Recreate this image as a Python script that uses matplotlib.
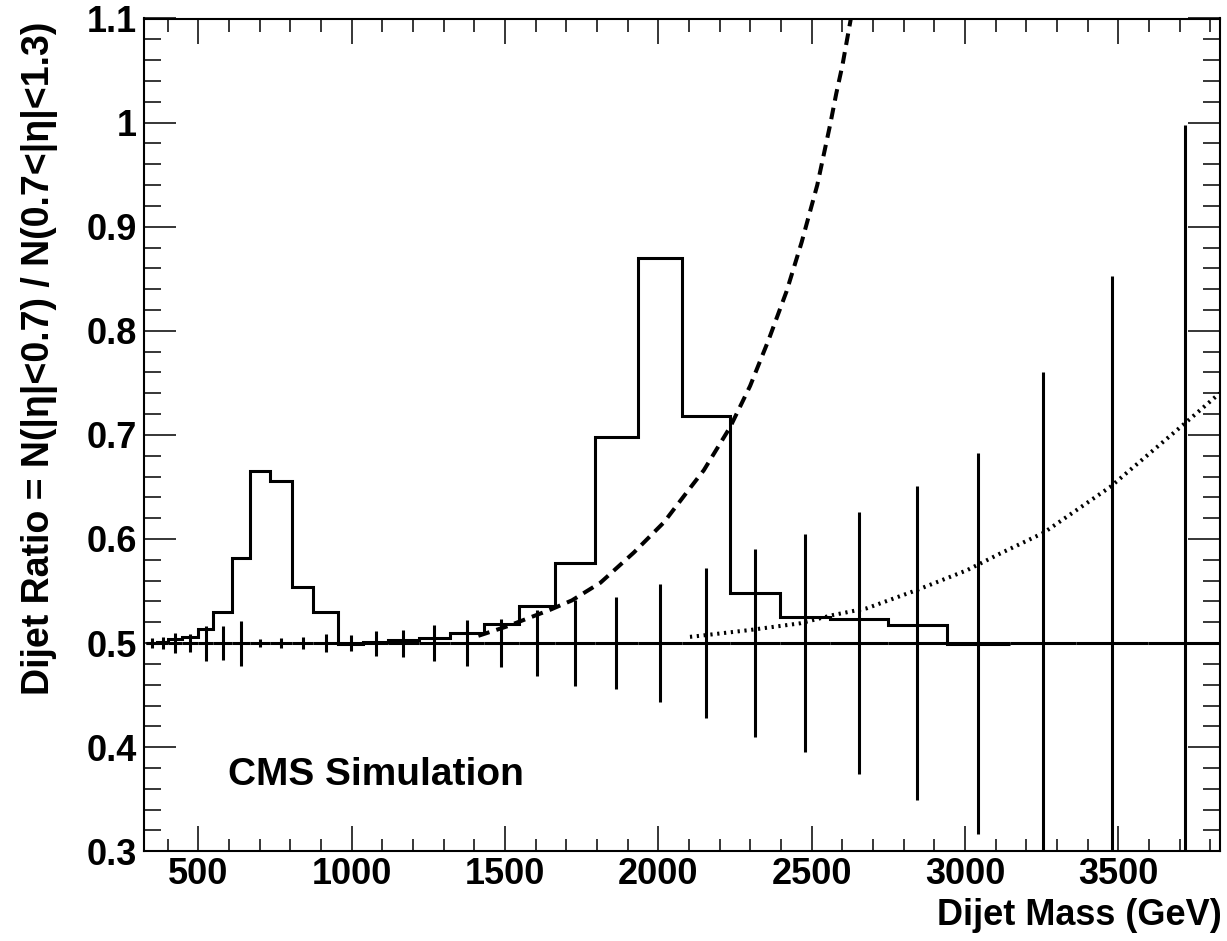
import matplotlib
matplotlib.use("Agg")
import matplotlib.pyplot as plt
from matplotlib.ticker import MultipleLocator, FuncFormatter
from matplotlib import font_manager

# ---------------- data ----------------
bin_edges = [330, 366, 402, 446, 500, 549, 609, 669, 734, 805, 875, 957, 1038,
             1120, 1218, 1321, 1430, 1544, 1662, 1794, 1932, 2077, 2232, 2395,
             2561, 2749, 2940, 3146, 3360, 3596, 3838]

# signal ratio histogram (first 27 bins)
hist_ratio = [0.5005, 0.501, 0.5035, 0.5055, 0.514, 0.530, 0.5815, 0.6656,
              0.6557, 0.5536, 0.5302, 0.4995, 0.501, 0.503, 0.505, 0.510,
              0.518, 0.536, 0.577, 0.698, 0.870, 0.718, 0.548, 0.525, 0.523,
              0.517, 0.4995]

# expected ratio points with statistical errors
point_ratio = [0.5] * 30
point_err = [0.0048, 0.006, 0.0094, 0.009, 0.0168, 0.016, 0.0216, 0.004,
             0.005, 0.0058, 0.0083, 0.0075, 0.012, 0.013, 0.0175, 0.0224,
             0.023, 0.032, 0.041, 0.044, 0.057, 0.0718, 0.090, 0.105, 0.1255,
             0.151, 0.183, 0.26, 0.353, 0.498]

# contact interaction curves
dash_mass = [1413, 1506, 1647, 1718, 1811, 1920, 2018, 2106, 2148, 2234, 2299,
             2359, 2418, 2467, 2518, 2560, 2580, 2600, 2630]
dash_ratio = [0.507, 0.516, 0.532, 0.541, 0.558, 0.587, 0.616, 0.650, 0.666,
              0.7075, 0.747, 0.791, 0.838, 0.885, 0.940, 0.998, 1.028, 1.055,
              1.104]

dot_mass = [2103, 2135, 2299, 2462, 2570, 2679, 2843, 3006, 3114, 3256, 3473,
            3712, 3830]
dot_ratio = [0.506, 0.507, 0.5126, 0.519, 0.527, 0.5334, 0.551, 0.570, 0.586,
             0.606, 0.650, 0.710, 0.740]

xticks_major = [500, 1000, 1500, 2000, 2500, 3000, 3500]
x_label = "Dijet Mass (GeV)"
y_label = "Dijet Ratio = N(|η|<0.7) / N(0.7<|η|<1.3)"
cms_text = "CMS Simulation"

# ---------------- fonts ----------------
names = {f.name for f in font_manager.fontManager.ttflist}
narrow = "Liberation Sans Narrow" if "Liberation Sans Narrow" in names else "Liberation Sans"
plt.rcParams['font.family'] = ['Liberation Sans', 'DejaVu Sans']

W, H = 1227, 941
fig = plt.figure(figsize=(W / 100, H / 100), dpi=100)
ax = fig.add_axes([144 / W, 1 - 851.3 / H, (1220 - 144) / W, (851.3 - 18.5) / H])

n_h = len(hist_ratio)
ax.stairs(hist_ratio, bin_edges[:n_h + 1], baseline=None, color='k', lw=2.2)

centers = [(a + b) / 2 for a, b in zip(bin_edges[:-1], bin_edges[1:])]
halfw = [(b - a) / 2 for a, b in zip(bin_edges[:-1], bin_edges[1:])]
ax.errorbar(centers, point_ratio, xerr=halfw, yerr=point_err, fmt='none',
            ecolor='k', elinewidth=2.2, capsize=0)

ax.plot(dash_mass, dash_ratio, color='k', lw=2.9, dashes=(2.9, 1.8))
ax.plot(dot_mass, dot_ratio, color='k', lw=2.9, dashes=(0.55, 1.15))

ax.set_xlim(323, 3831)
ax.set_ylim(0.3, 1.1)

ax.xaxis.set_major_locator(plt.FixedLocator(xticks_major))
ax.xaxis.set_minor_locator(MultipleLocator(100))
ax.yaxis.set_major_locator(MultipleLocator(0.1))
ax.yaxis.set_minor_locator(MultipleLocator(0.02))
ax.yaxis.set_major_formatter(FuncFormatter(lambda v, p: f"{v:g}"))

for s in ax.spines.values():
    s.set_linewidth(1.5)

ax.tick_params(axis='both', which='both', direction='in', top=True, right=True,
               width=1.1, labelsize=26)
ax.tick_params(axis='x', which='major', length=18, pad=4)
ax.tick_params(axis='x', which='minor', length=9)
ax.tick_params(axis='y', which='major', length=23, pad=5)
ax.tick_params(axis='y', which='minor', length=12)
for lab in ax.get_xticklabels() + ax.get_yticklabels():
    lab.set_fontweight('bold')

fig.text(1222 / W, 1 - 925 / H, x_label, ha='right', va='baseline',
         fontsize=26, fontweight='bold', family=[narrow, 'DejaVu Sans'])
fig.text(40 / W, 1 - 22 / H, y_label, ha='center', va='top', rotation=90,
         fontsize=27, fontweight='bold', family=[narrow, 'DejaVu Sans'])
fig.text(228 / W, 1 - 775 / H, cms_text, ha='left', va='center',
         fontsize=28, fontweight='bold')

fig.savefig("out.png", dpi=100)
